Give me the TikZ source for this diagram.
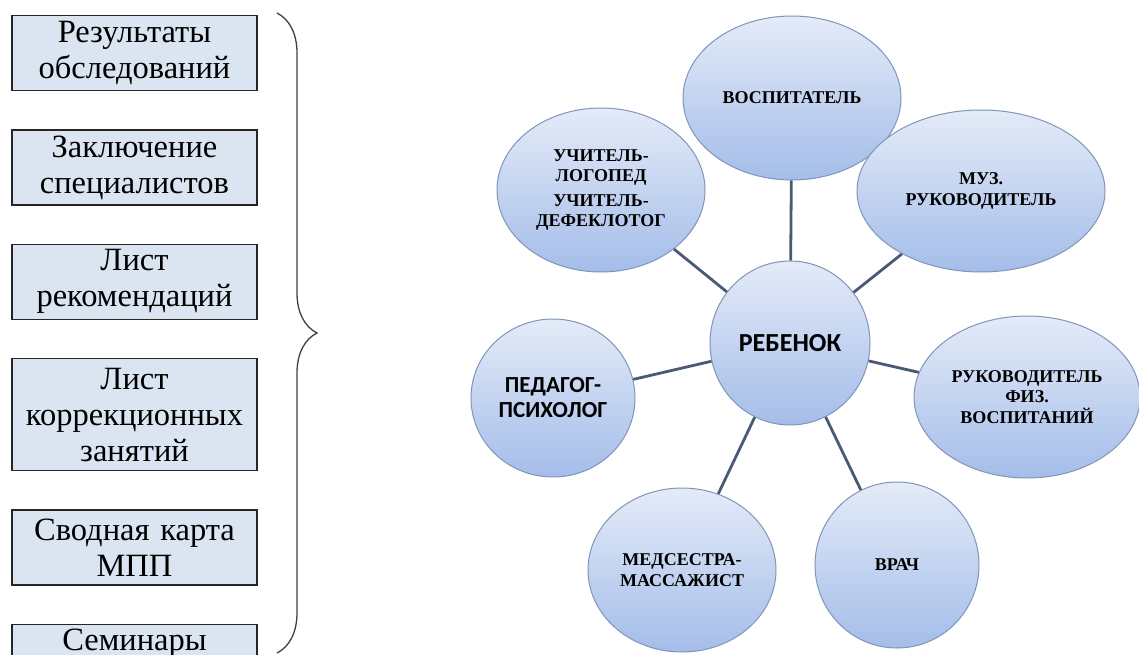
\documentclass[tikz,border=0pt]{standalone}
\usepackage{fontspec}
\setmainfont{Liberation Serif}
\newfontfamily\calibrifont{Carlito}
\usetikzlibrary{positioning}
\usetikzlibrary{shapes}
\usetikzlibrary{decorations.pathreplacing}
\definecolor{boxfill}{RGB}{219,229,241}
\definecolor{ovaltop}{RGB}{228,235,248}
\definecolor{ovalbottom}{RGB}{164,189,233}
\definecolor{ovalline}{RGB}{128,149,184}
\definecolor{linkcol}{RGB}{74,90,118}
\tikzset{
  docbox/.style={
    draw=black!85, line width=1.4pt, fill=boxfill,
    text width=237pt, align=center, inner sep=4pt,
    minimum height=75pt, font=\fontsize{32.5}{36}\selectfont
  },
  oval/.style={
    ellipse, draw=ovalline, line width=1pt,
    top color=ovaltop, bottom color=ovalbottom,
    inner sep=0pt, align=center,
    font=\fontsize{18}{20.5}\selectfont\bfseries
  },
  link/.style={draw=linkcol, line width=2.8pt}
}

\begin{document}
\begin{tikzpicture}[x=1pt, y=-1pt]
  \useasboundingbox (0,0) rectangle (1139,655);
  \clip (0,0) rectangle (1139,655);

  % documents of the council
  \node[docbox] (results) at (134.5,53) {Результаты\\обследований};
  \node[docbox, below=38pt of results] (conclusion) {Заключение\\специалистов};
  \node[docbox, below=38pt of conclusion] (recs) {Лист\\рекомендаций};
  \node[docbox, below=38pt of recs, minimum height=112pt] (lessons) {Лист\\коррекционных\\занятий};
  \node[docbox, below=38pt of lessons] (summary) {Сводная карта\\МПП};
  \node[docbox, below=38pt of summary, minimum height=0pt, text depth=30pt] (seminars) {Семинары};

  \coordinate (bracetop) at (277,13);
  \coordinate (bracebot) at (277,653);
  \draw[decorate, decoration={brace, amplitude=40pt}, line width=1.3pt, draw=black!75]
    (bracetop) -- (bracebot);

  % specialists round the child
  \node[oval, minimum width=218pt, minimum height=164pt] (tutor) at (792,98) {ВОСПИТАТЕЛЬ};
  \node[oval, minimum width=248pt, minimum height=162pt] (music) at (981,191) {МУЗ.\\РУКОВОДИТЕЛЬ};
  \node[oval, minimum width=208pt, minimum height=164pt] (logo) at (601,190)
    {УЧИТЕЛЬ-\\ЛОГОПЕД\\[4pt]УЧИТЕЛЬ-\\ДЕФЕКЛОТОГ};
  \node[oval, minimum width=160pt, minimum height=164pt,
    font=\calibrifont\bfseries\fontsize{26}{28}\selectfont] (child) at (790,343) {РЕБЕНОК};
  \node[oval, minimum width=164pt, minimum height=158pt,
    font=\calibrifont\bfseries\fontsize{23}{25}\selectfont] (psych) at (553,398) {ПЕДАГОГ-\\ПСИХОЛОГ};
  \node[oval, minimum width=226pt, minimum height=162pt] (sport) at (1027,397)
    {РУКОВОДИТЕЛЬ\\ФИЗ.\\ВОСПИТАНИЙ};
  \node[oval, minimum width=188pt, minimum height=164pt] (nurse) at (682,570)
    {МЕДСЕСТРА-\\МАССАЖИСТ};
  \node[oval, minimum width=164pt, minimum height=166pt] (doctor) at (897,565) {ВРАЧ};

  \draw[link] (child) -- (tutor);
  \draw[link] (child) -- (music);
  \draw[link] (child) -- (logo);
  \draw[link] (child) -- (psych);
  \draw[link] (child) -- (sport);
  \draw[link] (child) -- (nurse);
  \draw[link] (child) -- (doctor);
\end{tikzpicture}
\end{document}
